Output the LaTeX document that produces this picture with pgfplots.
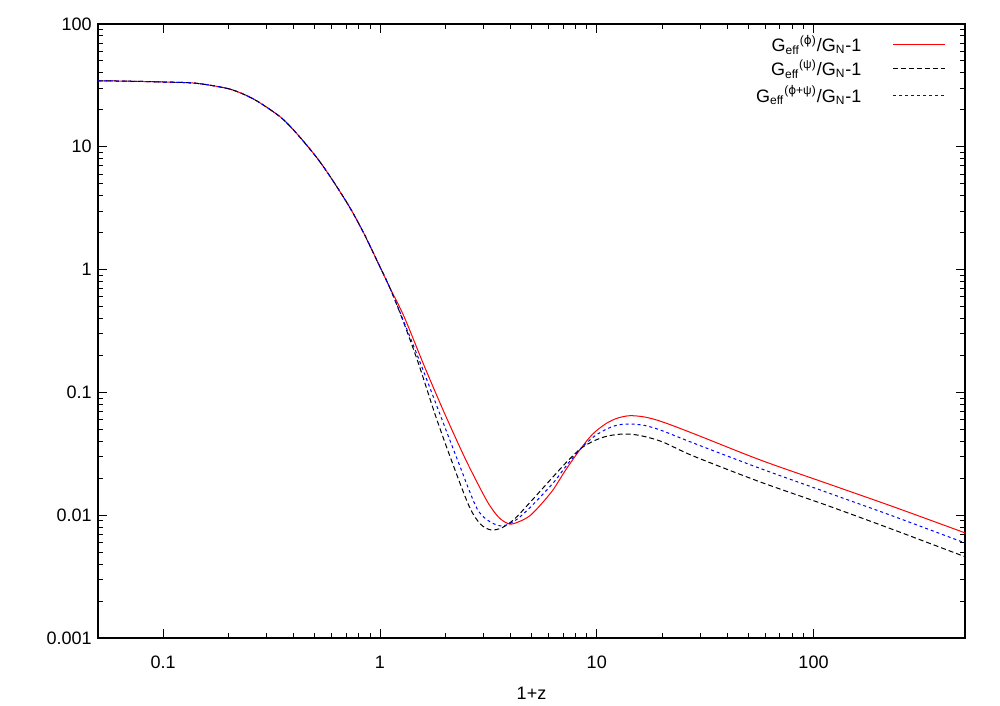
\documentclass[border=0pt]{standalone}
\usepackage{fontspec}
\setmainfont{Liberation Sans}
\newfontfamily\dejavu{DejaVu Sans}
\usepackage{pgfplots}
\pgfplotsset{compat=1.18}

\newcommand{\lphi}{{\dejavu ϕ}}

\begin{document}
\fontsize{9}{11}\selectfont
\begin{tikzpicture}
\begin{axis}[
scale only axis,
width=433.5pt,
height=307pt,
xmode=log,
ymode=log,
xmin=0.05, xmax=500,
ymin=0.001, ymax=100,
xtick={0.1,1,10,100},
xticklabels={0.1,1,10,100},
ytick={0.001,0.01,0.1,1,10,100},
yticklabels={0.001,0.01,0.1,1,10,100},
xticklabel style={yshift=-6pt},
tick align=inside,
major tick length=4.5pt,
minor tick length=2.5pt,
every tick/.style={black, line width=0.5pt},
axis line style={line width=0.6pt},
xlabel={1+z},
xlabel style={yshift=-3pt},
]

% G_eff^(phi)/G_N - 1
\addplot[red, line width=0.5pt, smooth] coordinates {
(0.05,34.5) (0.07,34.2) (0.1,33.7) (0.142,32.9) (0.2,29.7) (0.2474,25.7) (0.2894,21.9)
(0.3529,17.07) (0.4128,12.83) (0.504,8.42) (0.5868,5.78) (0.7186,3.30) (0.8405,1.99)
(0.9654,1.197) (1.1008,0.735) (1.292,0.413) (1.598,0.165) (1.979,0.0684) (2.448,0.02996)
(2.873,0.01706) (3.196,0.0121) (3.556,0.00949) (3.96,0.00847) (4.401,0.00889)
(4.896,0.00985) (5.446,0.01188) (6.277,0.01604) (7.187,0.02334) (8.344,0.03397)
(9.583,0.04584) (11.09,0.05603) (12.51,0.06185) (14.21,0.06459) (16.68,0.0630)
(20,0.0577) (27.88,0.04627) (56.84,0.02815) (115.7,0.01812) (235.4,0.01166) (500,0.00718)};

% G_eff^(psi)/G_N - 1
\addplot[black, line width=0.5pt, dash pattern=on 2.5pt off 1.5pt, smooth] coordinates {
(0.05,34.5) (0.07,34.2) (0.1,33.7) (0.142,32.9) (0.2,29.7) (0.2474,25.7) (0.2894,21.9)
(0.3529,17.07) (0.4128,12.83) (0.504,8.42) (0.5868,5.78) (0.7186,3.30) (0.8405,1.99)
(0.9654,1.197) (1.1008,0.735) (1.268,0.396) (1.504,0.1726) (1.810,0.0634) (2.161,0.02647)
(2.583,0.01173) (2.904,0.00848) (3.255,0.00758) (3.672,0.00794) (4.173,0.00931)
(4.896,0.01258) (6.277,0.02047) (7.338,0.02763) (8.496,0.03526) (9.789,0.04058)
(11.24,0.04416) (13.34,0.04584) (15.82,0.04457) (20,0.03968) (27.88,0.03034)
(56.84,0.01864) (115.7,0.0120) (235.4,0.00758) (500,0.00459)};

% G_eff^(phi+psi)/G_N - 1
\addplot[blue, line width=0.5pt, dash pattern=on 1.5pt off 1.5pt, smooth] coordinates {
(0.05,34.5) (0.07,34.2) (0.1,33.7) (0.142,32.9) (0.2,29.7) (0.2474,25.7) (0.2894,21.9)
(0.3529,17.07) (0.4128,12.83) (0.504,8.42) (0.5868,5.78) (0.7186,3.30) (0.8405,1.99)
(0.9654,1.197) (1.1008,0.735) (1.268,0.4036) (1.548,0.1671) (1.91,0.0634) (2.273,0.02847)
(2.774,0.01173) (3.129,0.00914) (3.62,0.00817) (4.173,0.00897) (4.896,0.01144)
(6.277,0.01819) (7.338,0.0261) (8.496,0.03526) (9.789,0.04416) (11.24,0.0508)
(12.51,0.05426) (14.21,0.05529) (16.68,0.05375) (20,0.0488) (27.88,0.03871)
(56.84,0.02401) (115.7,0.01531) (235.4,0.00976) (500,0.00594)};

% legend, gnuplot style: key text left of the sample line
\draw[red, line width=0.5pt] (axis description cs:0.917,0.966) -- (axis description cs:0.977,0.966);
\draw[black, line width=0.5pt, dash pattern=on 2.5pt off 1.5pt] (axis description cs:0.917,0.927) -- (axis description cs:0.977,0.927);
\draw[blue, line width=0.5pt, dash pattern=on 1.5pt off 1.5pt] (axis description cs:0.917,0.884) -- (axis description cs:0.977,0.884);
\node[anchor=base east, inner sep=0pt, yshift=-3.5pt] at (axis description cs:0.881,0.966)
  {G\textsubscript{eff}\textsuperscript{(\lphi)}/G\textsubscript{N}-1};
\node[anchor=base east, inner sep=0pt, yshift=-3.5pt] at (axis description cs:0.881,0.927)
  {G\textsubscript{eff}\textsuperscript{(ψ)}/G\textsubscript{N}-1};
\node[anchor=base east, inner sep=0pt, yshift=-3.5pt] at (axis description cs:0.881,0.884)
  {G\textsubscript{eff}\textsuperscript{(\lphi+ψ)}/G\textsubscript{N}-1};

\end{axis}
\path ([xshift=-49pt,yshift=-31pt]current axis.south west) rectangle ([xshift=17.5pt,yshift=12pt]current axis.north east);
\end{tikzpicture}
\end{document}
